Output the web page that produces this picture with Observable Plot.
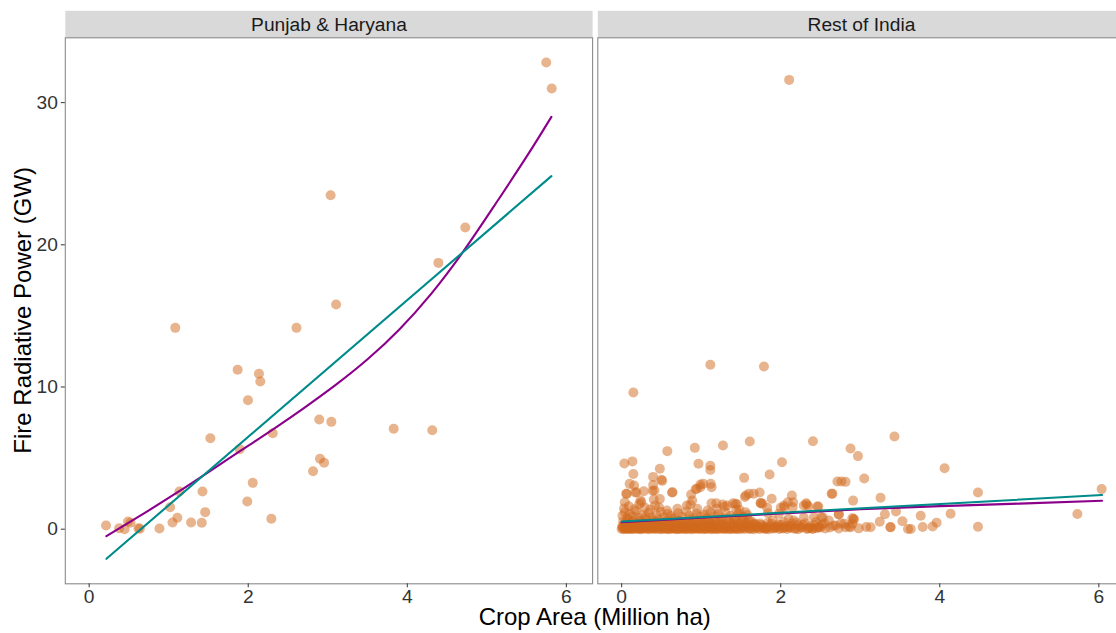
<!DOCTYPE html>
<html>
<head>
<meta charset="utf-8">
<script src="https://cdn.jsdelivr.net/npm/d3@7"></script>
<script src="https://cdn.jsdelivr.net/npm/@observablehq/plot@0.6"></script>
<style>
  body { margin: 0; background: #fff; }
  #wrap { width: 1116px; height: 633px; overflow: hidden; position: relative; background: #fff; }
</style>
</head>
<body>
<div id="wrap"></div>
<script>
// ---------- data ----------
const regions = ["Punjab & Haryana", "Rest of India"];
const xTicks = [0, 2, 4, 6];
const yTicks = [0, 10, 20, 30];
const xTitle = "Crop Area (Million ha)";
const yTitle = "Fire Radiative Power (GW)";

// [crop area, FRP]
const punjabHaryana = [
  [3.036,23.49],[4.729,21.22],[4.391,18.73],[3.105,15.80],[5.747,32.82],[5.816,30.99],
  [1.083,14.16],[2.607,14.16],[1.867,11.21],[2.135,10.93],[2.152,10.39],[1.997,9.07],
  [2.893,7.71],[3.045,7.55],[3.829,7.06],[4.314,6.96],[2.308,6.75],[1.524,6.40],[1.893,5.63],
  [2.902,4.95],[2.954,4.67],[2.815,4.08],[2.057,3.26],[1.135,2.65],[1.425,2.65],[1.988,1.95],
  [1.018,1.55],[1.459,1.20],[1.109,0.80],[2.291,0.73],[1.048,0.47],[1.282,0.47],[1.416,0.45],
  [0.212,0.26],[0.377,0.07],[0.446,0.00],[0.489,0.54],[0.520,0.45],[0.619,0.07],[0.637,0.03],[0.884,0.05]
];

const restOfIndia = [
  // outliers and scattered upper points
  [2.106,31.6],[0.147,9.61],[1.115,11.56],[1.789,11.44],[3.43,6.52],[4.06,4.29],[4.48,2.58],[4.48,0.17],
  [6.035,2.82],[5.73,1.07],[0.574,5.49],[0.92,5.72],[1.274,5.89],[1.611,6.17],[2.405,6.19],[2.878,5.67],
  [2.971,5.14],[3.05,3.57],[2.713,3.35],[2.764,3.36],[2.815,3.33],[2.64,2.50],[2.91,2.01],[3.255,2.21],
  [2.016,4.71],[1.86,3.85],[1.54,3.61],[1.735,2.58],[1.886,2.14],[0.966,4.60],[1.115,4.46],[1.115,4.16],
  [0.99,3.14],[1.12,3.19],[1.13,2.95],[0.93,2.81],[0.873,2.44],[0.633,2.58],[0.034,4.62],[0.135,4.77],
  [0.147,3.88],[0.10,3.19],[0.156,3.07],[0.065,2.49],[0.17,2.58],[0.48,4.25],[0.396,3.68],[0.50,3.48],
  [0.396,3.10],[0.39,2.70],[0.48,2.12],[0.04,1.90],[0.246,1.90],[0.865,1.74],[1.13,1.83],[1.27,1.74],
  [1.40,1.83],[1.60,2.49],[1.55,2.26],[1.75,1.85],[2.047,1.55],[2.156,1.90],[2.325,1.74],[2.473,1.60],
  [2.15,1.55],[2.73,1.05],[2.916,0.73],[3.245,0.52],[3.31,1.05],[3.45,1.24],[3.76,0.95],[4.136,1.09],
  [3.96,0.46],[3.91,0.19],[3.785,0.15],[3.60,0.01],[3.635,0.01],[3.38,0.13],[3.38,0.15],[3.075,0.15],
  [3.13,0.14],[3.53,0.56],[2.98,0.06],[2.90,0.38],[2.90,0.77],[2.88,0.14],[2.80,0.38],[2.86,0.17],
  [2.73,0.05],[2.62,0.12],[2.51,0.85],[2.55,0.40],[2.48,0.17],[0.186,2.60],[0.057,2.49],[0.278,2.67],
  [0.413,2.72],[0.404,2.09],[0.237,2.02],[0.887,2.02],[1.19,1.83],[1.327,1.67],[1.45,1.75],[1.025,3.19],
  [0.945,2.84],[0.51,3.40],[0.64,2.60],[0.99,2.95],[1.56,2.37],[1.77,1.79],[2.14,2.37],[2.29,1.67],
  [2.46,1.60],[2.65,2.49],[1.66,2.49],[2.32,1.83],[2.35,1.60],[2.00,1.50],[2.04,1.67],[2.09,1.90],
  [1.83,1.50],[1.84,1.13],[1.976,1.08],[1.43,1.79],[1.48,1.36],[1.557,1.20],[1.52,0.84],[1.60,0.61],
  [1.68,0.38],[1.746,1.83],
  // dense band near zero
  [0.00,0.02],[0.02,0.08],[0.03,0.00],[0.05,0.05],[0.07,0.11],[0.08,0.01],[0.10,0.04],[0.12,0.09],
  [0.13,0.00],[0.15,0.06],[0.17,0.02],[0.19,0.10],[0.21,0.03],[0.23,0.07],[0.25,0.00],[0.27,0.05],
  [0.29,0.12],[0.31,0.02],[0.33,0.06],[0.35,0.00],[0.37,0.09],[0.39,0.03],[0.41,0.05],[0.43,0.01],
  [0.45,0.10],[0.47,0.04],[0.49,0.00],[0.51,0.07],[0.53,0.02],[0.55,0.11],[0.57,0.04],[0.59,0.00],
  [0.61,0.06],[0.63,0.02],[0.65,0.09],[0.67,0.03],[0.69,0.00],[0.71,0.05],[0.73,0.12],[0.75,0.01],
  [0.77,0.06],[0.79,0.03],[0.81,0.00],[0.83,0.08],[0.85,0.02],[0.87,0.05],[0.89,0.00],[0.91,0.10],
  [0.93,0.03],[0.95,0.06],[0.97,0.01],[0.99,0.04],[1.01,0.09],[1.03,0.00],[1.05,0.05],[1.07,0.02],
  [1.09,0.11],[1.11,0.03],[1.13,0.00],[1.15,0.07],[1.17,0.02],[1.19,0.05],[1.21,0.00],[1.23,0.09],
  [1.25,0.03],[1.27,0.06],[1.29,0.01],[1.31,0.04],[1.33,0.10],[1.35,0.00],[1.37,0.05],[1.39,0.02],
  [1.41,0.08],[1.43,0.01],[1.45,0.04],[1.48,0.00],[1.51,0.06],[1.54,0.02],[1.57,0.09],[1.60,0.01],
  [1.63,0.04],[1.66,0.00],[1.70,0.07],[1.73,0.02],[1.77,0.05],[1.81,0.03],[1.85,0.00],[1.89,0.06],
  [1.94,0.14],[1.98,0.02],[2.03,0.05],[2.08,0.01],[2.12,0.10],[2.17,0.03],[2.22,0.00],[2.27,0.12],
  [2.33,0.02],[2.40,0.03],[2.45,0.08],
  [0.01,0.12],[0.04,0.15],[0.06,0.03],[0.09,0.20],[0.11,0.07],[0.14,0.28],[0.16,0.13],[0.20,0.16],
  [0.22,0.02],[0.24,0.40],[0.28,0.08],[0.32,0.38],[0.36,0.14],[0.40,0.42],[0.42,0.11],[0.46,0.22],
  [0.50,0.14],[0.54,0.38],[0.56,0.05],[0.60,0.12],[0.64,0.40],[0.66,0.08],[0.70,0.18],[0.72,0.02],
  [0.76,0.40],[0.80,0.10],[0.84,0.14],[0.88,0.42],[0.92,0.07],[0.94,0.16],[0.98,0.38],[1.00,0.12],
  [1.04,0.40],[1.06,0.08],[1.10,0.15],[1.12,0.38],[1.16,0.10],[1.18,0.42],[1.22,0.14],[1.28,0.38],
  [1.32,0.12],[1.36,0.18],[1.40,0.40],[1.44,0.10],[1.47,0.36],[1.52,0.14],[1.56,0.40],[1.61,0.12],
  [1.65,0.36],[1.69,0.14],[1.74,0.40],[1.78,0.20],[1.83,0.12],[1.88,0.38],[1.92,0.05],[1.96,0.20],
  [2.01,0.30],[2.05,0.12],[2.13,0.22],[2.20,0.45],[2.28,0.30],[2.36,0.10],[2.43,0.30],[2.50,0.12],
  [0.01,0.22],[0.04,0.30],[0.06,0.18],[0.09,0.35],[0.11,0.25],[0.14,0.16],[0.16,0.32],[0.18,0.21],
  [0.22,0.28],[0.24,0.17],[0.26,0.36],[0.30,0.24],[0.32,0.15],[0.34,0.31],[0.38,0.20],[0.40,0.27],
  [0.44,0.18],[0.46,0.34],[0.48,0.22],[0.52,0.29],[0.54,0.16],[0.58,0.25],[0.60,0.33],[0.62,0.19],
  [0.66,0.27],[0.68,0.15],[0.72,0.31],[0.74,0.22],[0.78,0.18],[0.80,0.29],[0.84,0.24],[0.86,0.36],
  [0.90,0.17],[0.92,0.26],[0.96,0.32],[0.98,0.20],[1.02,0.27],[1.04,0.16],[1.08,0.34],[1.10,0.22],
  [1.14,0.29],[1.16,0.18],[1.20,0.25],[1.24,0.33],[1.26,0.19],[1.30,0.28],[1.34,0.21],[1.38,0.35],
  [1.42,0.24],[1.46,0.17],[1.50,0.30],[1.55,0.22],[1.59,0.27],[1.64,0.18],[1.68,0.32],
  [0.02,0.55],[0.05,0.45],[0.08,0.68],[0.12,0.50],[0.15,0.62],[0.19,0.42],[0.23,0.58],[0.27,0.48],
  [0.31,0.70],[0.35,0.44],[0.39,0.60],[0.43,0.52],[0.47,0.66],[0.51,0.43],[0.56,0.57],[0.60,0.49],
  [0.64,0.72],[0.69,0.46],[0.73,0.60],[0.77,0.52],[0.82,0.44],[0.86,0.65],[0.90,0.50],[0.95,0.58],
  [1.00,0.45],[1.05,0.68],[1.09,0.53],[1.13,0.42],[1.18,0.61],[1.22,0.48],[1.27,0.56],[1.32,0.70],
  [1.36,0.46],[1.41,0.59],[1.46,0.51],[1.52,0.64],[1.57,0.44],[1.63,0.55],
  [0.01,0.95],[0.04,1.20],[0.07,0.82],[0.10,1.05],[0.14,0.90],[0.18,1.28],[0.21,0.78],[0.26,1.00],
  [0.30,0.86],[0.34,1.15],[0.38,0.80],[0.44,0.97],[0.49,1.22],[0.53,0.84],[0.58,1.08],[0.62,0.92],
  [0.67,0.79],[0.71,1.12],[0.76,0.88],[0.81,1.25],[0.85,0.96],[0.90,0.81],[0.94,1.10],[0.99,0.87],
  [1.04,1.02],[1.08,0.77],[1.12,1.18],[1.17,0.90],[1.21,1.05],[1.26,0.83],[1.31,1.14],[1.37,0.94],
  [1.42,0.79],[1.47,1.08],[1.53,0.88],[1.58,1.00],
  [0.03,1.45],[0.09,1.62],[0.16,1.40],[0.22,1.75],[0.29,1.52],[0.36,1.38],[0.42,1.66],[0.47,1.55],
  [0.57,1.32],[0.70,1.43],[0.82,1.67],[0.95,1.43],[1.08,1.32],[1.20,1.43],[1.29,1.58],[1.44,1.36],
  // semi-dense band 1.7 - 3.1
  [1.72,0.15],[1.76,0.30],[1.79,0.10],[1.81,0.03],[1.84,0.45],[1.87,0.20],[1.90,0.62],[1.93,0.14],
  [1.97,0.35],[2.00,0.08],[2.04,0.50],[2.07,0.22],[2.10,0.14],[2.10,0.73],[2.14,0.40],[2.165,0.61],
  [2.19,0.05],[2.22,0.28],[2.25,0.14],[2.29,0.80],[2.31,0.42],[2.34,0.06],[2.37,0.20],[2.40,0.03],
  [2.417,0.84],[2.44,0.50],[2.47,0.12],[2.52,0.33],[2.53,0.80],[2.56,0.05],[2.605,0.61],[2.66,0.25],
  [2.69,0.26],[2.73,1.03],[2.76,0.40],[2.815,0.14],[2.92,0.66]
];

// fitted lines: [crop area, FRP]
const linearFitPunjab = [[0.217,-2.08],[5.812,24.83]];
const smoothFitPunjab = [[0.217,-0.49],[0.7,1.15],[1.113,2.60],[1.5,4.02],[1.9,5.50],[2.326,7.08],[2.7,8.52],
  [3.1,10.15],[3.5,11.95],[3.9,14.05],[4.3,16.55],[4.7,19.50],[5.1,22.80],[5.5,26.20],[5.812,29.0]];
const linearFitRest = [[0.0,0.54],[6.04,2.40]];
const smoothFitRest = [[0.0,0.50],[1.0,0.80],[2.0,1.10],[3.0,1.40],[4.0,1.62],[5.0,1.80],[6.04,2.00]];

// ---------- build ----------
const toRows = (arr, region) => arr.map(([x, y]) => ({region, x, y}));
const points = [...toRows(punjabHaryana, regions[0]), ...toRows(restOfIndia, regions[1])];
const linear = [...toRows(linearFitPunjab, regions[0]), ...toRows(linearFitRest, regions[1])];
const smooth = [...toRows(smoothFitPunjab, regions[0]), ...toRows(smoothFitRest, regions[1])];

const W = 1132, H = 633;
const mL = 64.8, mR = 7.4, mT = 37.3, mB = 49.7;
const font = "'Liberation Sans', Arial, Helvetica, sans-serif";

const plot = Plot.plot({
  width: W, height: H,
  marginLeft: mL, marginRight: mR, marginTop: mT, marginBottom: mB,
  style: {fontFamily: font, background: "#fff", maxWidth: "none", overflow: "visible"},
  fx: {domain: regions, paddingInner: 0.00977, paddingOuter: 0, round: false, label: null},
  x: {domain: [-0.30, 6.33], label: null},
  y: {domain: [-3.84, 34.56], label: null},
  marks: [
    Plot.frame({fill: "#D9D9D9", stroke: null, insetTop: -27, insetBottom: H - mT - mB}),
    Plot.axisFx({anchor: "top", tickSize: 0, tickPadding: 6.6, label: null, fontSize: 19.2, color: "#1A1A1A"}),
    Plot.dot(points, {fx: "region", x: "x", y: "y", r: 5, fill: "#D2691E", fillOpacity: 0.5, stroke: "none"}),
    Plot.line(smooth, {fx: "region", x: "x", y: "y", stroke: "#8B008B", strokeWidth: 2.1, curve: "natural"}),
    Plot.line(linear, {fx: "region", x: "x", y: "y", stroke: "#008B8B", strokeWidth: 2.1}),
    Plot.frame({stroke: "#8a8a8a", strokeWidth: 1.1}),
    Plot.axisX({anchor: "bottom", ticks: xTicks, tickFormat: d => String(d), tickSize: 4, tickPadding: 2, label: null, fontSize: 19.2, color: "#333333"}),
    Plot.axisY({anchor: "left", ticks: yTicks, tickFormat: d => String(d), tickSize: 4, tickPadding: 3.5, label: null, fontSize: 19.2, color: "#333333"})
  ]
});

const svg = d3.select(plot);
svg.selectAll('g[aria-label="x-axis tick label"], g[aria-label="y-axis tick label"]').attr("fill", "#4D4D4D");

// axis titles
const panelMid = (mT + (H - mB)) / 2;
svg.append("text")
  .attr("x", 594.7).attr("y", 625)
  .attr("text-anchor", "middle")
  .attr("font-family", font).attr("font-size", 24).attr("fill", "#000")
  .text(xTitle);
svg.append("text")
  .attr("transform", `translate(31,${panelMid}) rotate(-90)`)
  .attr("text-anchor", "middle")
  .attr("font-family", font).attr("font-size", 24).attr("fill", "#000")
  .text(yTitle);

document.getElementById("wrap").appendChild(plot);
</script>
</body>
</html>
